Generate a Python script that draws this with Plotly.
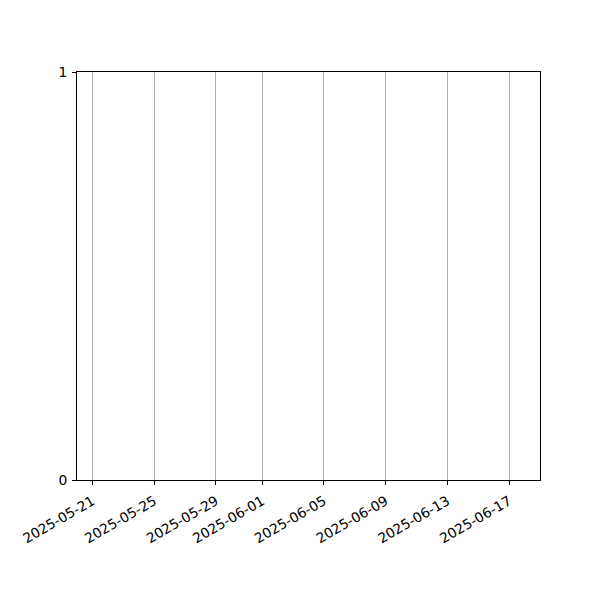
import plotly.graph_objects as go

# empty series on a date axis
dates = []
values = []
tick_dates = ["2025-05-21", "2025-05-25", "2025-05-29", "2025-06-01",
              "2025-06-05", "2025-06-09", "2025-06-13", "2025-06-17"]
x_range = ["2025-05-20", "2025-06-19"]
y_ticks = [0, 1]

fig = go.Figure(go.Scatter(x=dates, y=values, mode="lines", showlegend=False))

fig.update_layout(
    width=600, height=600,
    plot_bgcolor="white", paper_bgcolor="white",
    margin=dict(l=67, r=68, t=64, b=128),
    font=dict(family="DejaVu Sans", size=13.8, color="black"),
)
fig.update_xaxes(
    type="date", range=x_range, tickvals=tick_dates, ticktext=tick_dates,
    tickangle=-30, showgrid=True, gridcolor="#b0b0b0", gridwidth=1,
    showline=True, linecolor="black", mirror=True, ticks="outside",
    ticklen=4, tickcolor="black", zeroline=False, ticklabelstandoff=3,
)
fig.update_yaxes(
    range=[0, 1], tickvals=y_ticks, showgrid=False,
    showline=True, linecolor="black", mirror=True, ticks="outside",
    ticklen=4, tickcolor="black", zeroline=False, ticklabelstandoff=2,
)

fig.write_html("out.html")
